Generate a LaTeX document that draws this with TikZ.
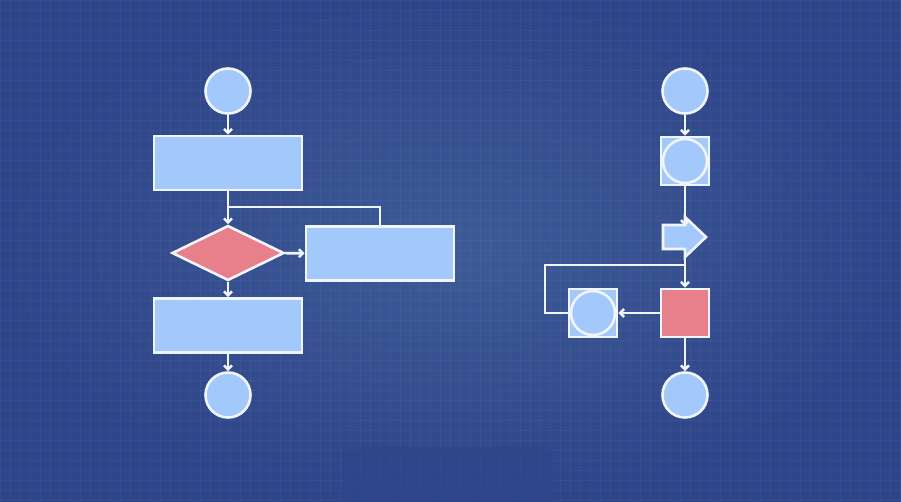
\documentclass[tikz,border=0pt]{standalone}
\usetikzlibrary{arrows.meta,shapes.geometric}
\definecolor{bgA}{HTML}{2E4589}
\definecolor{bgB}{HTML}{3D5A96}
\definecolor{fillb}{HTML}{A3C8FB}
\definecolor{fillr}{HTML}{E8808C}
\definecolor{edge}{HTML}{F0F4FB}
\tikzset{
  base/.style={draw=edge,line width=2.6pt,inner sep=0pt},
  box/.style={base,fill=fillb,rectangle,minimum width=148pt,minimum height=54pt},
  term/.style={base,fill=fillb,circle,minimum size=45pt},
  sq/.style={base,fill=fillb,rectangle,minimum size=48pt},
  incirc/.style={base,fill=fillb,circle,minimum size=44pt},
  redsq/.style={base,fill=fillr,rectangle,minimum size=48pt},
  dia/.style={base,fill=fillr,diamond,aspect=2.05,minimum width=112pt,minimum height=55pt},
  conn/.style={draw=edge,line width=2.6pt,-{Straight Barb[length=4pt,width=8pt]}},
  line/.style={draw=edge,line width=2.6pt}
}
\begin{document}
\begin{tikzpicture}[x=1pt,y=-1pt]
\useasboundingbox (0,0) rectangle (901,501);
\shade[inner color=bgB,outer color=bgA] (0,0) rectangle (901,501);
\foreach \i in {0,10,...,900} \draw[white,opacity=0.04] (\i,0) -- (\i,501);
\foreach \i in {0,10,...,500} \draw[white,opacity=0.04] (0,\i) -- (901,\i);
\fill[bgA,opacity=0.6] (342,447) rectangle (552,501);
% left
\node[term] (c1) at (228,91) {};
\node[box] (r1) at (228,163) {};
\node[dia] (d) at (228,253) {};
\node[box] (r2) at (380,253.5) {};
\node[box] (r3) at (228,325.5) {};
\node[term] (c2) at (228,395) {};
\coordinate (j1) at (228,207);
\coordinate (j2) at (380,207);
\draw[conn] (c1) -- (r1);
\draw[conn] (r1) -- (d);
\draw[line] (j1) -- (j2) -- (r2);
\draw[conn] (d) -- (r2);
\draw[conn] (d) -- (r3);
\draw[conn] (r3) -- (c2);
% right
\node[term] (k1) at (685,91) {};
\node[sq] (s1) at (685,161) {};
\node[incirc] (s1c) at (685,161) {};
\coordinate (p) at (685,237);
\draw[base,fill=fillb] (663,225) -- (685,225) -- (685,217) -- (706,237) -- (685,257) -- (685,249) -- (663,249) -- cycle;
\node[redsq] (rs) at (685,313) {};
\node[sq] (s2) at (593,313) {};
\node[incirc] (s2c) at (593,313) {};
\node[term] (k2) at (685,395) {};
\coordinate (l1) at (685,265);
\coordinate (l2) at (545,265);
\coordinate (l3) at (545,313);
\draw[conn] (k1) -- (s1);
\draw[conn] (s1) -- (685,226);
\draw[conn] (685,249) -- (rs);
\draw[line] (l1) -- (l2) -- (l3) -- (s2);
\draw[conn] (rs) -- (s2);
\draw[conn] (rs) -- (k2);
\end{tikzpicture}
\end{document}
